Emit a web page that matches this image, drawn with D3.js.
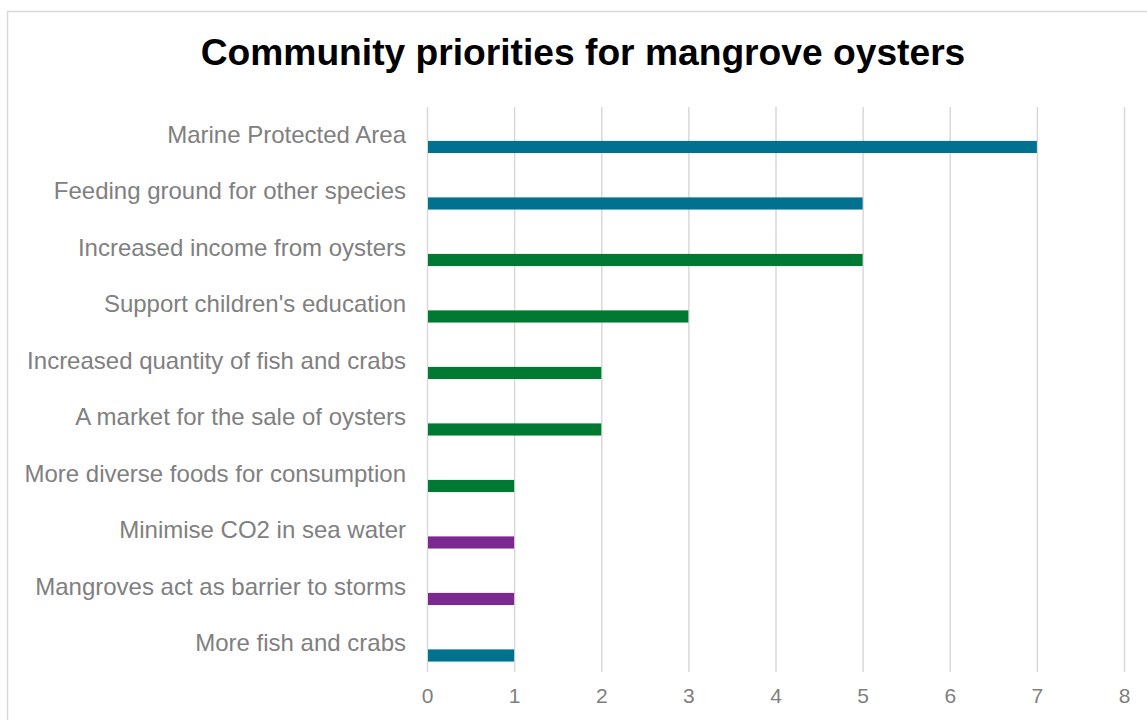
<!DOCTYPE html>
<html>
<head>
<meta charset="utf-8">
<script src="https://cdn.jsdelivr.net/npm/d3@7"></script>
<style>
  body { margin: 0; background: #fff; }
  svg { display: block; font-family: Arial, "Liberation Sans", sans-serif; }
</style>
</head>
<body>
<svg id="chart"></svg>
<script>
const categories = [
  'Marine Protected Area',
  'Feeding ground for other species',
  'Increased income from oysters',
  "Support children's education",
  'Increased quantity of fish and crabs',
  'A market for the sale of oysters',
  'More diverse foods for consumption',
  'Minimise CO2 in sea water',
  'Mangroves act as barrier to storms',
  'More fish and crabs'
];
const values = [7, 5, 5, 3, 2, 2, 1, 1, 1, 1];
const groups = ['a', 'a', 'b', 'b', 'b', 'b', 'b', 'c', 'c', 'a'];
const xTicks = [0, 1, 2, 3, 4, 5, 6, 7, 8];

const width = 1147, height = 720;
const margin = { top: 107, right: 23, bottom: 48, left: 427 };

const svg = d3.select('#chart')
  .attr('width', width)
  .attr('height', height);

// chart area border
svg.append('rect')
  .attr('x', 7.5)
  .attr('y', 11.5)
  .attr('width', 1200)
  .attr('height', 800)
  .attr('fill', '#fff')
  .attr('stroke', '#d9d9d9')
  .attr('stroke-width', 1.5);

svg.append('text')
  .attr('x', 583)
  .attr('y', 65)
  .attr('text-anchor', 'middle')
  .style('font-size', '37.2px')
  .style('font-weight', 'bold')
  .style('fill', '#000')
  .text('Community priorities for mangrove oysters');

const xScale = d3.scaleLinear()
  .domain([0, 8])
  .range([margin.left, width - margin.right]);

const yScale = d3.scaleBand()
  .domain(categories)
  .range([margin.top, height - margin.bottom])
  .padding(0);

const color = d3.scaleOrdinal()
  .domain(['a', 'b', 'c'])
  .range(['#00718f', '#007a33', '#7b2890']);

// gridlines
svg.append('g')
  .attr('transform', `translate(0,${height - margin.bottom})`)
  .call(d3.axisBottom(xScale)
    .tickValues(xTicks)
    .tickSize(-(height - margin.bottom - margin.top))
    .tickFormat('')
  )
  .call(g => g.select('.domain').remove())
  .call(g => g.selectAll('line')
    .attr('stroke', '#d9d9d9')
    .attr('stroke-width', 1.5));

// tick labels
svg.append('g')
  .attr('transform', `translate(0,${height - margin.bottom})`)
  .call(d3.axisBottom(xScale).tickValues(xTicks).tickSize(0).tickPadding(16))
  .call(g => g.select('.domain').remove())
  .selectAll('text')
  .style('font-size', '21px')
  .style('font-family', 'Arial, "Liberation Sans", sans-serif')
  .style('fill', '#7f7f7f');

// category labels
svg.append('g')
  .attr('transform', `translate(${margin.left},0)`)
  .call(d3.axisLeft(yScale).tickSize(0).tickPadding(21))
  .call(g => g.select('.domain').remove())
  .selectAll('text')
  .style('font-size', '24px')
  .style('font-family', 'Arial, "Liberation Sans", sans-serif')
  .style('fill', '#808080');

// bars
svg.append('g')
  .selectAll('rect')
  .data(categories)
  .join('rect')
  .attr('x', xScale(0) + 1)
  .attr('y', d => yScale(d) + yScale.bandwidth() * 0.6)
  .attr('width', (d, i) => xScale(values[i]) - xScale(0) - 1)
  .attr('height', yScale.bandwidth() * 0.215)
  .attr('fill', (d, i) => color(groups[i]));
</script>
</body>
</html>
